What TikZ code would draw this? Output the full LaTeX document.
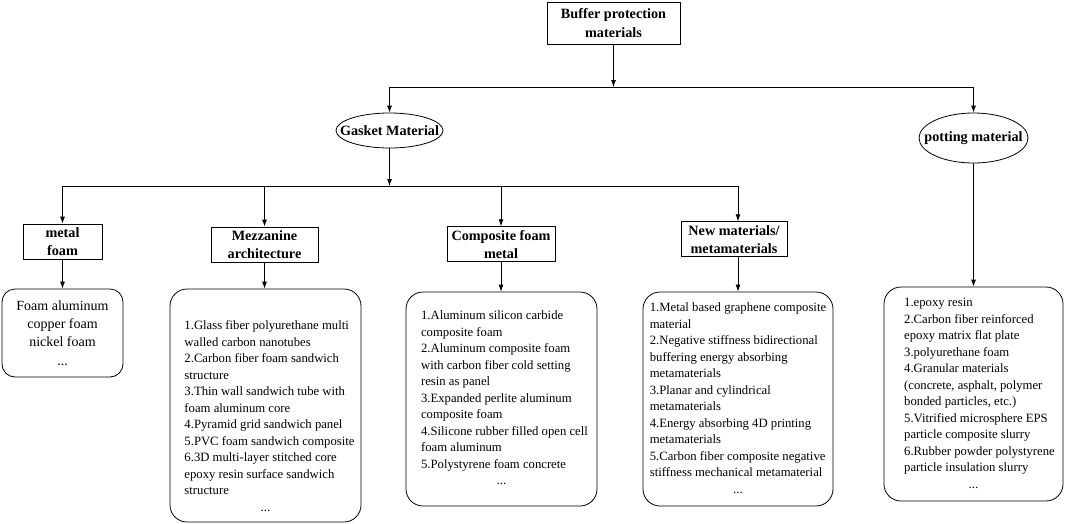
\documentclass[tikz,border=0pt]{standalone}
\usepackage{fontspec}
\setmainfont{Liberation Serif}
\usetikzlibrary{shapes.geometric,arrows.meta}
\begin{document}
\begin{tikzpicture}[x=1pt,y=-1pt,
  line width=0.8pt,
  arr/.style={-{Latex[length=7pt,width=5pt]}},
  hbox/.style={draw,rectangle,inner sep=0pt,align=center,font=\fontsize{14.2}{18}\selectfont\bfseries},
  ell/.style={draw,ellipse,inner sep=0pt,font=\fontsize{14.2}{18}\selectfont\bfseries},
  cbox/.style={draw,rectangle,rounded corners=17pt,inner sep=0pt,font=\fontsize{12.7}{16.5}\selectfont},
]
\useasboundingbox (0,0) rectangle (1065,523);

% top level
\node[hbox,minimum width=133pt,minimum height=42pt,font=\fontsize{14.2}{19}\selectfont\bfseries] (top) at (613.5,23) {Buffer protection\\materials};
\coordinate (j0) at (613.5,87);
\coordinate (jg) at (389.5,87);
\coordinate (jp) at (973.5,87);
\node[ell,minimum width=107pt,minimum height=35pt] (gasket) at (389.5,130.5) {\makebox[0pt]{Gasket Material}};
\node[ell,minimum width=109pt,minimum height=50pt] (potting) at (973.5,138) {\makebox[0pt]{potting material}};
\draw[arr] (top) -- (j0);
\draw (jg) -- (jp);
\draw[arr] (jg) -- (gasket);
\draw[arr] (jp) -- (potting);

% second level
\coordinate (k0) at (389.5,186);
\coordinate (k1) at (62.5,186);
\coordinate (k2) at (264.5,186);
\coordinate (k3) at (501,186);
\coordinate (k4) at (738,186);
\draw[arr] (gasket) -- (k0);
\draw (k1) -- (k4);

\node[hbox,minimum width=79pt,minimum height=35pt] (metal) at (62.5,241.5) {metal\\foam};
\node[hbox,minimum width=107pt,minimum height=35pt] (mezz) at (264.5,244.5) {Mezzanine\\architecture};
\node[hbox,minimum width=108pt,minimum height=35pt] (comp) at (501,244.2) {Composite foam\\metal};
\node[hbox,minimum width=106pt,minimum height=35pt] (newm) at (734,239.2) {New materials/\\metamaterials};

\draw[arr] (k1) -- (metal);
\draw[arr] (k2) -- (mezz);
\draw[arr] (k3) -- (comp);
\draw[arr] (k4) -- (k4 |- newm.north);

% content boxes
\node[cbox,rounded corners=13pt,minimum width=121pt,minimum height=88pt,align=center,font=\fontsize{14}{18.3}\selectfont] (metalc) at (62.5,333)
  {Foam aluminum\\copper foam\\nickel foam\\...};

\node[cbox,minimum width=191pt,minimum height=233pt] (mezzc) at (265.5,405.5)
  {\begin{tabular}{@{\hspace{8pt}}l@{}}
  \rule{0pt}{34.5pt}1.Glass fiber polyurethane multi\\
  walled carbon nanotubes\\
  2.Carbon fiber foam sandwich\\
  structure\\
  3.Thin wall sandwich tube with\\
  foam aluminum core\\
  4.Pyramid grid sandwich panel\\
  5.PVC foam sandwich composite\\
  6.3D multi-layer stitched core\\
  epoxy resin surface sandwich\\
  structure\\
  \multicolumn{1}{@{}c@{}}{...}
  \end{tabular}};

\node[cbox,minimum width=191pt,minimum height=214pt] (compc) at (501.5,399)
  {\begin{tabular}{@{\hspace{6pt}}l@{}}
  1.Aluminum silicon carbide\\
  composite foam\\
  2.Aluminum composite foam\\
  with carbon fiber cold setting\\
  resin as panel\\
  3.Expanded perlite aluminum\\
  composite foam\\
  4.Silicone rubber filled open cell\\
  foam aluminum\\
  5.Polystyrene foam concrete\\
  \multicolumn{1}{@{}c@{}}{...}
  \end{tabular}};

\node[cbox,minimum width=190pt,minimum height=214pt] (newmc) at (738,399)
  {\begin{tabular}{@{}l@{}}
  1.Metal based graphene composite\\
  material\\
  2.Negative stiffness bidirectional\\
  buffering energy absorbing\\
  metamaterials\\
  3.Planar and cylindrical\\
  metamaterials\\
  4.Energy absorbing 4D printing\\
  metamaterials\\
  5.Carbon fiber composite negative\\
  stiffness mechanical metamaterial\\
  \multicolumn{1}{@{}c@{}}{...}
  \end{tabular}};

\node[cbox,minimum width=179pt,minimum height=214pt] (potc) at (973.5,394)
  {\begin{tabular}{@{\hspace{12pt}}l@{}}
  1.epoxy resin\\
  2.Carbon fiber reinforced\\
  epoxy matrix flat plate\\
  3.polyurethane foam\\
  4.Granular materials\\
  (concrete, asphalt, polymer\\
  bonded particles, etc.)\\
  5.Vitrified microsphere EPS\\
  particle composite slurry\\
  6.Rubber powder polystyrene\\
  particle insulation slurry\\
  \multicolumn{1}{@{}c@{}}{...}
  \end{tabular}};

\draw[arr] (metal) -- (metalc);
\draw[arr] (mezz.south) -- (mezz.south |- mezzc.north);
\draw[arr] (comp.south) -- (comp.south |- compc.north);
\draw[arr] (newm.south -| newmc.north) -- (newmc.north);
\draw[arr] (potting) -- (potc);
\end{tikzpicture}
\end{document}
